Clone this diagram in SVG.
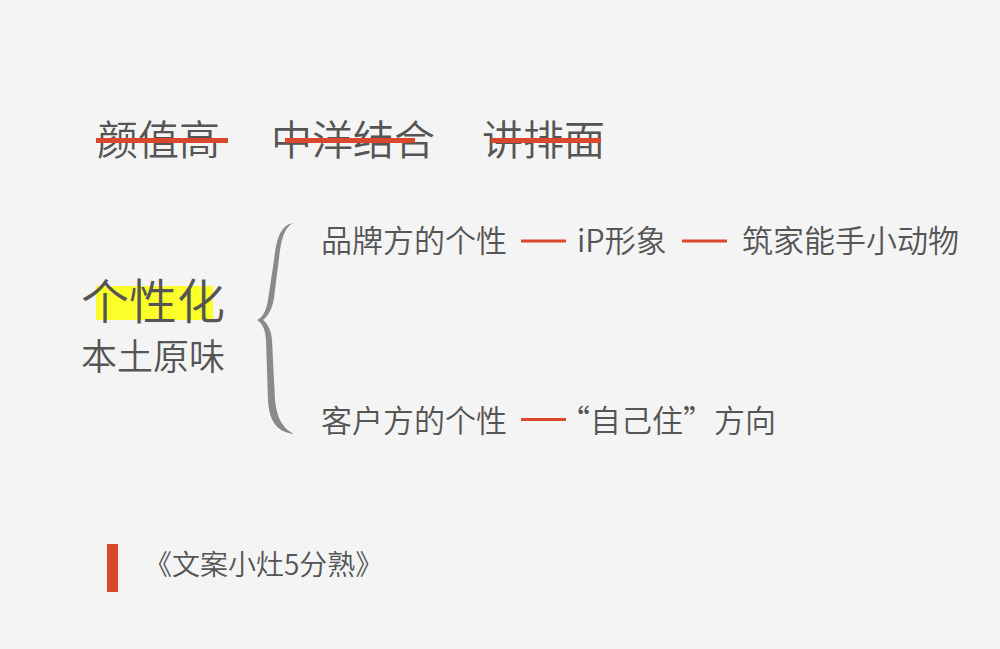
<svg xmlns="http://www.w3.org/2000/svg" width="1000" height="649" viewBox="0 0 1000 649">
<defs>
<style>
.t{font-family:"Noto Sans CJK SC","Noto Sans",sans-serif;fill:#555555;font-weight:350}
.strike{stroke:#d9482a;stroke-width:5}
.dash{stroke:#d9482a;stroke-width:3}
</style>
</defs>
<rect width="1000" height="649" fill="#f4f4f4"/>
<g id="top-row">
<text class="t" x="97" y="155" font-size="41">颜值高</text>
<text class="t" x="271" y="155" font-size="41">中洋结合</text>
<text class="t" x="482" y="155" font-size="41">讲排面</text>
<line class="strike" x1="96" y1="140.5" x2="228" y2="140.5"/>
<line class="strike" x1="285" y1="140.5" x2="415" y2="140.5"/>
<line class="strike" x1="491" y1="140.5" x2="601" y2="140.5"/>
</g>
<g id="main">
<rect x="96" y="286" width="117" height="34" fill="#fbff2a"/>
<text class="t" x="81" y="319" font-size="48">个性化</text>
<text class="t" x="81" y="370" font-size="36">本土原味</text>
</g>
<g id="brace">
<path fill="#8a8a8a" d="M293,223 C278,226 276,245 274,260 L268,300 C266,312 262,318 257,320 C262,323 265,328 266,340 L268,400 C269,420 276,432 294,434 C282,428 277,418 275,400 L272,340 C271,330 268,324 263,320 C268,316 272,310 274,298 L279,258 C281,240 284,228 293,223 Z"/>
</g>
<g id="brand">
<text class="t" x="321" y="252" font-size="31">品牌方的个性</text>
</g>
<g id="ip">
<text class="t" x="577" y="252" font-size="31">iP形象</text>
</g>
<g id="animal">
<text class="t" x="742" y="252" font-size="31">筑家能手小动物</text>
</g>
<g id="client">
<text class="t" x="321" y="432" font-size="31">客户方的个性</text>
</g>
<g id="self">
<text class="t" x="776" y="432" font-size="31" text-anchor="end">“自己住”方向</text>
</g>
<g id="connectors">
<line class="dash" x1="521" y1="241" x2="566" y2="241"/>
<line class="dash" x1="682" y1="241" x2="727" y2="241"/>
<line class="dash" x1="521" y1="419.5" x2="566" y2="419.5"/>
</g>
<g id="footer">
<rect x="107" y="544" width="11" height="48" fill="#d9482a"/>
<text class="t" x="144" y="575" font-size="28">《文案小灶5分熟》</text>
</g>
</svg>
